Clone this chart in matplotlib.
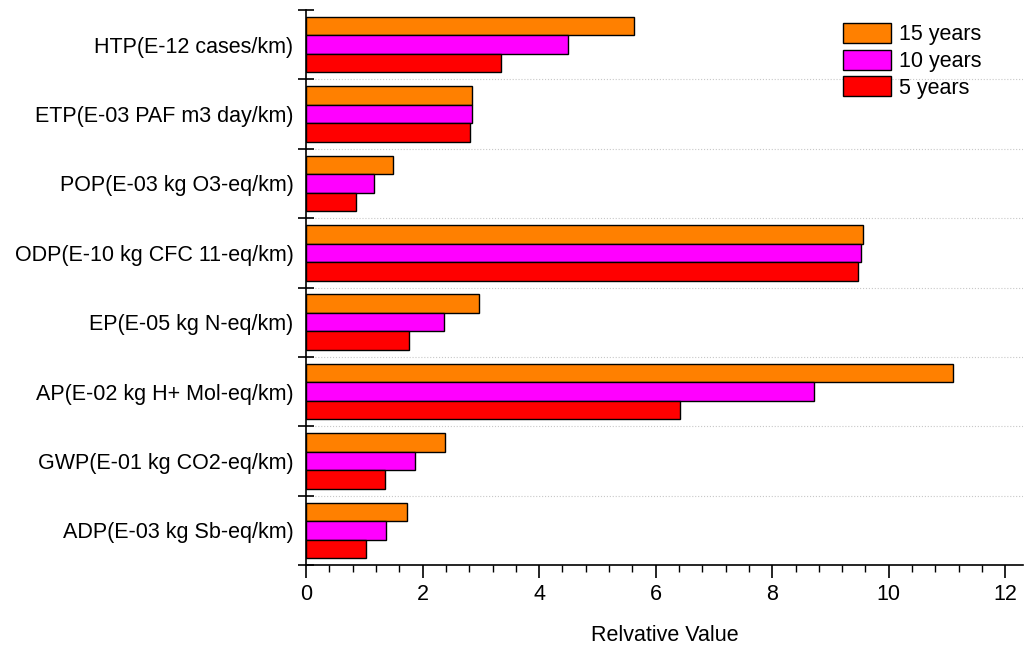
import numpy as np
import matplotlib.pyplot as plt
from matplotlib.ticker import MultipleLocator

plt.rcParams['font.family'] = ['Liberation Sans', 'DejaVu Sans']

categories = ['HTP(E-12 cases/km)', 'ETP(E-03 PAF m3 day/km)', 'POP(E-03 kg O3-eq/km)',
              'ODP(E-10 kg CFC 11-eq/km)', 'EP(E-05 kg N-eq/km)', 'AP(E-02 kg H+ Mol-eq/km)',
              'GWP(E-01 kg CO2-eq/km)', 'ADP(E-03 kg Sb-eq/km)']
years15 = [5.62, 2.85, 1.50, 9.56, 2.96, 11.11, 2.39, 1.73]
years10 = [4.50, 2.84, 1.17, 9.52, 2.36, 8.72, 1.87, 1.38]
years5 = [3.35, 2.82, 0.86, 9.48, 1.76, 6.42, 1.35, 1.03]
series_labels = ['15 years', '10 years', '5 years']
colors = ['#FF8000', '#FF00FF', '#FF0000']

fs = 15.5

fig = plt.figure(figsize=(10.29, 6.46), dpi=100)
ax = fig.add_axes([0.2974, 0.1254, 0.6966, 0.8591])

y = np.arange(len(categories))
h = 0.8 / 3
for k, vals in enumerate([years15, years10, years5]):
    ax.barh(y + (k - 1) * h, vals, height=h, color=colors[k], edgecolor='black',
            linewidth=1.0, label=series_labels[k], zorder=3)

ax.set_ylim(len(categories) - 0.5, -0.5)
ax.set_xlim(0, 12.3)

# y ticks at group boundaries, labels at centers
ax.set_yticks(np.arange(len(categories) + 1) - 0.5)
ax.set_yticklabels([])
ax.set_yticks(y, minor=True)
ax.set_yticklabels(categories, minor=True, fontsize=fs)
ax.tick_params(axis='y', which='major', direction='inout', length=11, width=1.2)
ax.tick_params(axis='y', which='minor', length=0, pad=9)

ax.xaxis.set_major_locator(MultipleLocator(2))
ax.xaxis.set_minor_locator(MultipleLocator(0.4))
ax.tick_params(axis='x', which='major', direction='out', length=9, width=1.2, labelsize=fs, pad=5)
ax.tick_params(axis='x', which='minor', direction='out', length=5, width=1.0)

for b in np.arange(1, len(categories)) - 0.5:
    ax.axhline(b, color='#c8c8c8', lw=0.8, ls=':', zorder=1)

ax.spines['top'].set_visible(False)
ax.spines['right'].set_visible(False)
ax.spines['left'].set_linewidth(1.2)
ax.spines['bottom'].set_linewidth(1.2)

ax.set_xlabel('Relvative Value', fontsize=fs, labelpad=14)

leg = ax.legend(loc='upper left', bbox_to_anchor=(843 / 1029, 1 - 23 / 646),
                bbox_transform=fig.transFigure, frameon=False, fontsize=fs,
                handlelength=2.23, handleheight=1.07, handletextpad=0.37,
                labelspacing=0.19, borderpad=0, borderaxespad=0)

fig.savefig('out.png', dpi=100)
